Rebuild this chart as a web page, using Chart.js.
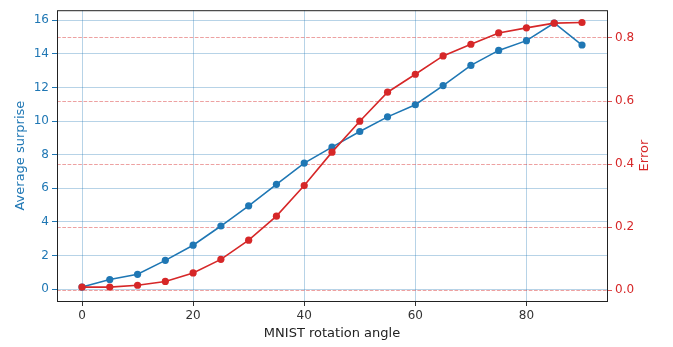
<!DOCTYPE html>
<html>
<head>
<meta charset="utf-8">
<script src="https://cdn.jsdelivr.net/npm/chart.js@4/dist/chart.umd.min.js"></script>
<style>
  html, body { margin: 0; padding: 0; background: #fff; }
  #wrap { width: 673px; height: 347px; }
</style>
</head>
<body>
<div id="wrap"><canvas id="mainChart" width="673" height="347"></canvas></div>
<script>
const angles = [0, 5, 10, 15, 20, 25, 30, 35, 40, 45, 50, 55, 60, 65, 70, 75, 80, 85, 90];
const surprise = [0.13, 0.58, 0.89, 1.72, 2.62, 3.76, 4.96, 6.24, 7.50, 8.45, 9.38, 10.25, 10.97, 12.11, 13.31, 14.20, 14.78, 15.83, 14.52];
const errorRate = [0.010, 0.010, 0.016, 0.028, 0.055, 0.098, 0.159, 0.235, 0.332, 0.438, 0.536, 0.628, 0.685, 0.743, 0.780, 0.816, 0.832, 0.847, 0.849];

const angleTicks = [0, 20, 40, 60, 80];
const surpriseTicks = [0, 2, 4, 6, 8, 10, 12, 14, 16];
const errorTicks = [0, 0.2, 0.4, 0.6, 0.8];

const xTitle = 'MNIST rotation angle';
const leftTitle = 'Average surprise';
const rightTitle = 'Error';

const BLUE = '#1f77b4';
const RED = '#d62728';
const FONT = "'DejaVu Sans', sans-serif";

const fixTicks = arr => scale => { scale.ticks = arr.map(v => ({ value: v })); };

// top/right spines + right axis title (reads bottom-to-top like matplotlib)
const framePlugin = {
    id: 'frame',
    afterDatasetsDraw: (chart) => {
        const { ctx, chartArea: a } = chart;
        ctx.save();
        ctx.strokeStyle = '#222';
        ctx.lineWidth = 1;
        ctx.strokeRect(a.left + 0.5, a.top + 0.5, a.right - a.left, a.bottom - a.top);
        ctx.restore();
    },
    afterDraw: (chart) => {
        const { ctx, chartArea: a } = chart;
        ctx.save();
        ctx.translate(645, (a.top + a.bottom) / 2);
        ctx.rotate(-Math.PI / 2);
        ctx.fillStyle = RED;
        ctx.font = "13px " + FONT;
        ctx.textAlign = 'center';
        ctx.textBaseline = 'middle';
        ctx.fillText(rightTitle, 0, 0);
        ctx.restore();
    }
};

const ctx = document.getElementById('mainChart').getContext('2d');
new Chart(ctx, {
    type: 'line',
    data: {
        datasets: [
            {
                label: leftTitle,
                data: angles.map((a, i) => ({ x: a, y: surprise[i] })),
                yAxisID: 'y',
                borderColor: BLUE,
                backgroundColor: BLUE,
                borderWidth: 1.6,
                pointRadius: 3.6,
                pointBorderWidth: 0,
                tension: 0,
                order: 2
            },
            {
                label: rightTitle,
                data: angles.map((a, i) => ({ x: a, y: errorRate[i] })),
                yAxisID: 'y1',
                borderColor: RED,
                backgroundColor: RED,
                borderWidth: 1.6,
                pointRadius: 3.6,
                pointBorderWidth: 0,
                tension: 0,
                order: 1
            }
        ]
    },
    options: {
        responsive: false,
        animation: false,
        events: [],
        layout: { padding: { top: 3, left: 0, right: 0, bottom: 0 } },
        plugins: {
            legend: { display: false },
            tooltip: { enabled: false }
        },
        scales: {
            x: {
                type: 'linear',
                min: -4.5,
                max: 94.5,
                afterBuildTicks: fixTicks(angleTicks),
                afterFit: (s) => { s.height = 46; },
                grid: { color: 'rgba(31,119,180,0.32)', lineWidth: 1, tickColor: '#333', tickLength: 5 },
                border: { display: false },
                ticks: { color: '#333', padding: 3, font: { family: FONT, size: 12 }, callback: v => v },
                title: { display: true, text: xTitle, color: '#222', font: { family: FONT, size: 13 }, padding: { top: 0, bottom: 6 } }
            },
            y: {
                type: 'linear',
                position: 'left',
                min: -0.697,
                max: 16.59,
                afterBuildTicks: fixTicks(surpriseTicks),
                afterFit: (s) => { s.width = 57; },
                grid: { color: 'rgba(31,119,180,0.32)', lineWidth: 1, tickColor: BLUE, tickLength: 5 },
                border: { display: false },
                ticks: { color: BLUE, padding: 3, font: { family: FONT, size: 12 }, callback: v => v },
                title: { display: true, text: leftTitle, color: BLUE, font: { family: FONT, size: 13 }, padding: { top: 12.5, bottom: 0 } }
            },
            y1: {
                type: 'linear',
                position: 'right',
                min: -0.034,
                max: 0.888,
                afterBuildTicks: fixTicks(errorTicks),
                afterFit: (s) => { s.width = 66; },
                grid: { color: 'rgba(214,39,40,0.55)', lineWidth: 0.8, tickColor: RED, tickLength: 5, tickBorderDash: [] },
                border: { display: false, dash: [3.7, 1.6] },
                ticks: { color: RED, padding: 3, font: { family: FONT, size: 12 }, callback: v => v.toFixed(1) }
            }
        }
    },
    plugins: [framePlugin]
});
</script>
</body>
</html>
